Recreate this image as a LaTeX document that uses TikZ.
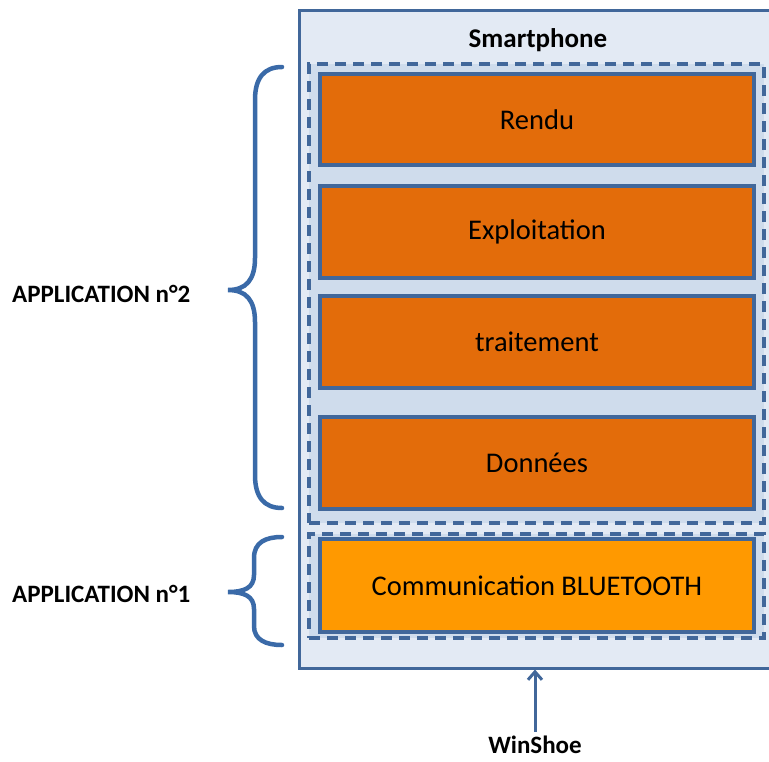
\documentclass[tikz,border=0pt]{standalone}
\usepackage{fontspec}
\setmainfont{Carlito}
\usetikzlibrary{arrows.meta}
\definecolor{bordblue}{HTML}{41679A}
\definecolor{outerfill}{HTML}{E3EAF4}
\definecolor{dashfill}{HTML}{CFDCEC}
\definecolor{orangeA}{HTML}{E36C0A}
\definecolor{orangeB}{HTML}{FF9900}
\definecolor{bracecol}{HTML}{3A6AA8}
\tikzset{
  outerbox/.style={draw=bordblue, line width=3pt, fill=outerfill, rectangle, inner sep=0pt},
  dashbox/.style={draw=bordblue, line width=3.5pt, dash pattern=on 11pt off 7pt, fill=dashfill, rectangle, inner sep=0pt, minimum width=455pt},
  layerbox/.style={draw=bordblue, line width=3.2pt, fill=orangeA, rectangle, inner sep=0pt, minimum width=434pt, font=\fontsize{28.5}{32}\selectfont},
  btbox/.style={layerbox, fill=orangeB},
  lbl/.style={font=\fontsize{25}{30}\selectfont\bfseries, inner sep=0pt},
  bracestyle/.style={draw=bracecol, line width=4.5pt, line cap=round},
}
\begin{document}
\begin{tikzpicture}[x=1pt,y=-1pt]
\useasboundingbox (0,0) rectangle (769,761);
\node[outerbox, minimum width=491pt, minimum height=658pt] (phone) at (544.5,339) {};
\node[lbl, font=\fontsize{27}{30}\selectfont\bfseries] (title) at (538,40) {Smartphone};
\node[dashbox, minimum height=459pt] (app2) at (536.5,293.5) {};
\node[dashbox, minimum height=104pt] (app1) at (536.5,586) {};
\node[layerbox, minimum height=91pt] (rendu) at (537,119.5) {Rendu};
\node[layerbox, minimum height=92pt] (exploit) at (537,232) {Exploitation};
\node[layerbox, minimum height=92pt] (trait) at (537,342) {traitement};
\node[layerbox, minimum height=92pt] (donnees) at (537,463) {Données};
\node[btbox, minimum height=93pt] (bt) at (537,585.5) {Communication BLUETOOTH};
\node[lbl, anchor=west] (lab2) at (12,294) {APPLICATION n°2};
\node[lbl, anchor=west] (lab1) at (12,594) {APPLICATION n°1};
\node[lbl] (shoe) at (535,745) {WinShoe};
\draw[draw=bordblue, line width=3pt, -{Straight Barb[length=8pt,width=14pt,line width=3pt]}] (shoe.north) ++(0,-4) -- (shoe.north |- phone.south);
% braces
\draw[bracestyle] (282,67) .. controls (264,67) and (255,78) .. (255,100) -- (255,258)
  .. controls (255,280) and (246,290) .. (228,290)
  .. controls (246,290) and (255,300) .. (255,322) -- (255,475)
  .. controls (255,497) and (264,508) .. (282,508);
\draw[bracestyle] (282,537) .. controls (266,537) and (254,542) .. (254,558) -- (254,575)
  .. controls (254,588) and (244,592) .. (228,592)
  .. controls (244,592) and (254,596) .. (254,609) -- (254,626)
  .. controls (254,640) and (266,645) .. (282,645);
\end{tikzpicture}
\end{document}
